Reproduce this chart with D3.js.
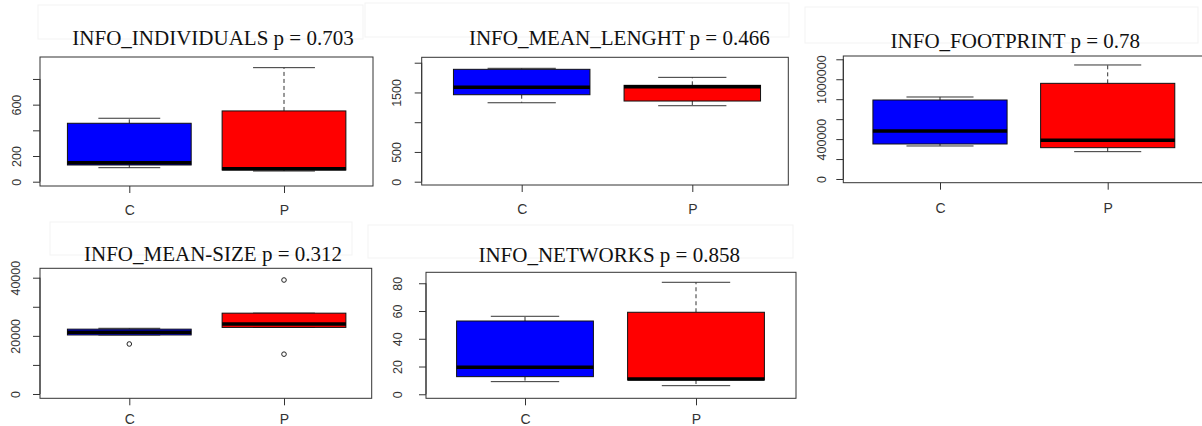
<!DOCTYPE html>
<html lang="en">
<head>
<meta charset="UTF-8">
<script src="https://d3js.org/d3.v7.min.js"></script>
<style>
  body { margin: 0; background: #fff; }
  svg { display: block; }
</style>
</head>
<body>
<svg id="chart" width="1202" height="426"></svg>
<script>

const groups = ["C", "P"];
const groupColors = ["#0000ff", "#ff0000"];
const titles = ["INFO_INDIVIDUALS", "INFO_MEAN_LENGHT", "INFO_FOOTPRINT", "INFO_MEAN-SIZE", "INFO_NETWORKS"];
const pValues = ["0.703", "0.466", "0.78", "0.312", "0.858"];

// box stats: [lower whisker, Q1, median, Q3, upper whisker]
const individualsC = [109, 130, 148, 455, 494];
const individualsP = [83, 91, 100, 551, 888];
const meanLengthC = [1327, 1462, 1586, 1889, 1906];
const meanLengthP = [1277, 1356, 1596, 1620, 1754];
const footprintC = [331000, 351000, 481000, 792000, 822000];
const footprintP = [274000, 314000, 388000, 959000, 1143000];
const meanSizeC = [20300, 20300, 21250, 22300, 22600];
const meanSizeP = [22900, 22900, 24100, 27800, 27800];
const networksC = [9.1, 12.7, 19.5, 52.8, 56.2];
const networksP = [6.2, 10.3, 11.0, 59.1, 80.7];

// outliers
const meanSizeOutC = [17200];
const meanSizeOutP = [39200, 13700];

// y ticks, and the ones R kept a label for
const individualsTicks = [0, 200, 400, 600, 800];
const individualsLabels = [0, 200, 600];
const meanLengthTicks = [0, 500, 1000, 1500, 2000];
const meanLengthLabels = [0, 500, 1500];
const footprintTicks = [0, 200000, 400000, 600000, 800000, 1000000, 1200000];
const footprintLabels = [0, 400000, 1000000];
const meanSizeTicks = [0, 10000, 20000, 30000, 40000];
const meanSizeLabels = [0, 20000, 40000];
const networksTicks = [0, 20, 40, 60, 80];
const networksLabels = [0, 20, 40, 60, 80];

const panels = [
    {stats: [individualsC, individualsP], out: [[], []], ticks: individualsTicks, labels: individualsLabels},
    {stats: [meanLengthC, meanLengthP], out: [[], []], ticks: meanLengthTicks, labels: meanLengthLabels},
    {stats: [footprintC, footprintP], out: [[], []], ticks: footprintTicks, labels: footprintLabels},
    {stats: [meanSizeC, meanSizeP], out: [meanSizeOutC, meanSizeOutP], ticks: meanSizeTicks, labels: meanSizeLabels},
    {stats: [networksC, networksP], out: [[], []], ticks: networksTicks, labels: networksLabels}
];

// where each screenshot piece sits on the page
const layout = [
    {l: 40, t: 57, r: 373, b: 186, y0: -33.5, y1: 971, xC: 129.3, xP: 284, labOff: 19.5, tx: 213, ty: 45, xly: 215},
    {l: 421.7, t: 57.3, r: 788.3, b: 185, y0: -55.5, y1: 2091, xC: 521.7, xP: 692.3, labOff: 21, tx: 619.3, ty: 45, xly: 214},
    {l: 843.3, t: 56, r: 1210, b: 182.7, y0: -37100, y1: 1233000, xC: 940, xP: 1107.7, labOff: 17, tx: 1015.3, ty: 48, xly: 213},
    {l: 40, t: 268.3, r: 371.7, b: 398.3, y0: -1480, y1: 43230, xC: 129.3, xP: 284, labOff: 20, tx: 213, ty: 261, xly: 424},
    {l: 426, t: 272.3, r: 796, b: 398.3, y0: -2.9, y1: 87.9, xC: 525, xP: 696, labOff: 24, tx: 609.2, ty: 261.5, xly: 424}
];

// faint leftovers of the pasted screenshots
const ghostBoxes = [
    [38, 5, 363, 39], [365, 3, 789, 37], [805, 7, 1198, 43], [50, 222, 352, 255], [368, 225, 793, 258]
];

const svg = d3.select("#chart");

svg.selectAll("rect.ghost").data(ghostBoxes).enter()
    .append("rect")
    .attr("class", "ghost")
    .attr("x", d => d[0]).attr("y", d => d[1])
    .attr("width", d => d[2] - d[0]).attr("height", d => d[3] - d[1])
    .attr("fill", "none")
    .attr("stroke", "#f3f3f3");

panels.forEach((panel, k) => {
    const L = layout[k];
    const g = svg.append("g");

    const y = d3.scaleLinear().domain([L.y0, L.y1]).range([L.b, L.t]);
    const x = d3.scaleLinear().domain([1, 2]).range([L.xC, L.xP]);
    const unit = x(2) - x(1);

    // title
    g.append("text")
        .attr("x", L.tx).attr("y", L.ty)
        .attr("text-anchor", "middle")
        .attr("font-family", "'Liberation Serif', 'Times New Roman', serif")
        .attr("font-size", 21)
        .attr("fill", "#111")
        .text(titles[k] + " p = " + pValues[k]);

    // y axis
    const yAxis = g.append("g")
        .attr("transform", "translate(" + L.l + ",0)")
        .call(d3.axisLeft(y)
            .tickValues(panel.ticks)
            .tickSize(7)
            .tickSizeOuter(0)
            .tickFormat(d => panel.labels.includes(d) ? String(d) : ""));
    yAxis.select(".domain").remove();
    yAxis.selectAll("line").attr("stroke", "#333");
    yAxis.selectAll("text")
        .attr("x", 0).attr("dy", null)
        .attr("text-anchor", "middle")
        .attr("transform", "translate(" + (-L.labOff) + ",0) rotate(-90)")
        .attr("font-family", "'Liberation Sans', Arial, sans-serif")
        .attr("font-size", 12.5)
        .attr("fill", "#333");
    g.append("line")
        .attr("x1", L.l).attr("x2", L.l)
        .attr("y1", y(panel.ticks[0])).attr("y2", y(panel.ticks[panel.ticks.length - 1]))
        .attr("stroke", "#333");

    // x axis
    const xAxis = g.append("g")
        .attr("transform", "translate(0," + L.b + ")")
        .call(d3.axisBottom(x)
            .tickValues([1, 2])
            .tickSize(7)
            .tickSizeOuter(0)
            .tickFormat(i => groups[i - 1]));
    xAxis.select(".domain").remove();
    xAxis.selectAll("line").attr("stroke", "#333");
    xAxis.selectAll("text")
        .attr("y", L.xly - L.b).attr("dy", null)
        .attr("font-family", "'Liberation Sans', Arial, sans-serif")
        .attr("font-size", 14)
        .attr("fill", "#333");

    // boxes
    panel.stats.forEach((s, i) => {
        const cx = x(i + 1);
        const bx = g.append("g");

        // dashed whiskers
        [[s[3], s[4]], [s[1], s[0]]].forEach(w => {
            if (w[0] !== w[1]) {
                bx.append("line")
                    .attr("x1", cx).attr("x2", cx)
                    .attr("y1", y(w[0])).attr("y2", y(w[1]))
                    .attr("stroke", "#333")
                    .attr("stroke-dasharray", "4,3");
            }
        });
        // staples
        [s[0], s[4]].forEach(v => {
            bx.append("line")
                .attr("x1", cx - unit * 0.2).attr("x2", cx + unit * 0.2)
                .attr("y1", y(v)).attr("y2", y(v))
                .attr("stroke", "#333");
        });

        bx.append("rect")
            .attr("x", cx - unit * 0.4)
            .attr("width", unit * 0.8)
            .attr("y", y(s[3]))
            .attr("height", y(s[1]) - y(s[3]))
            .attr("fill", groupColors[i])
            .attr("stroke", "#111");

        bx.append("line")
            .attr("x1", cx - unit * 0.4).attr("x2", cx + unit * 0.4)
            .attr("y1", y(s[2])).attr("y2", y(s[2]))
            .attr("stroke", "#000")
            .attr("stroke-width", 3.5);

        bx.selectAll("circle").data(panel.out[i]).enter()
            .append("circle")
            .attr("cx", cx)
            .attr("cy", d => y(d))
            .attr("r", 2.3)
            .attr("fill", "none")
            .attr("stroke", "#222");
    });

    // plot frame
    g.append("rect")
        .attr("x", L.l).attr("y", L.t)
        .attr("width", L.r - L.l).attr("height", L.b - L.t)
        .attr("fill", "none")
        .attr("stroke", "#333");
});

</script>
</body>
</html>
